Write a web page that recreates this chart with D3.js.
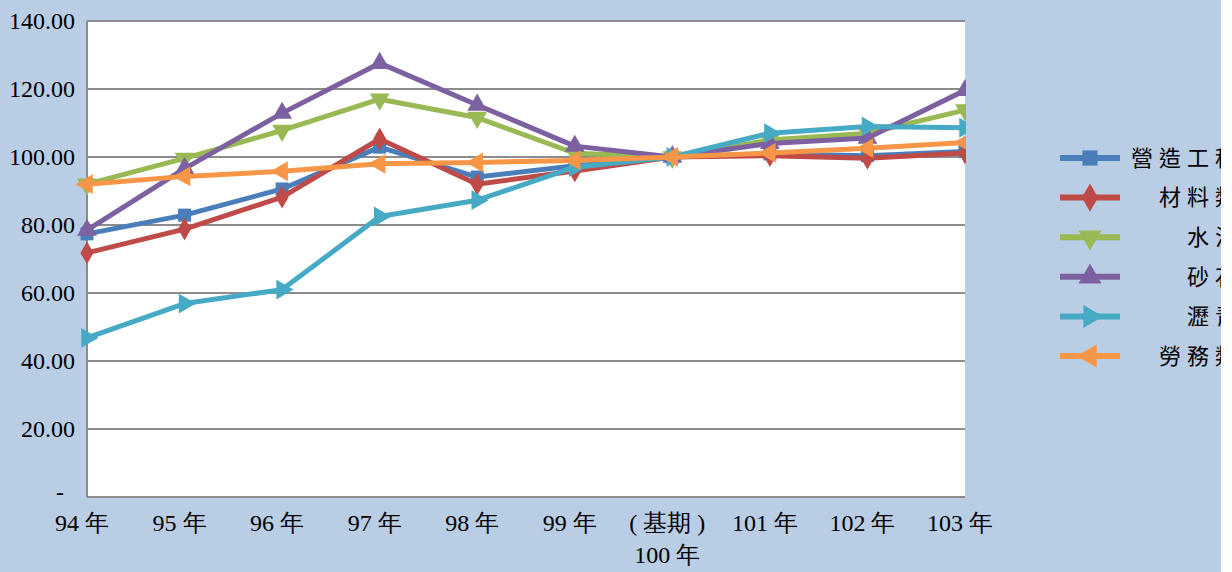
<!DOCTYPE html>
<html>
<head>
<meta charset="utf-8">
<script src="https://cdn.jsdelivr.net/npm/d3@7/dist/d3.min.js"></script>
<style>
  html, body { margin: 0; padding: 0; background: #fff; }
  svg text { fill: #000; }
</style>
</head>
<body>
<svg id="chart" width="1232" height="572"></svg>
<script>
// 年度 (類別軸)
const years = ['94 年', '95 年', '96 年', '97 年', '98 年', '99 年', '(基期)|100 年', '101 年', '102 年', '103 年'];
const yTicks = [0, 20, 40, 60, 80, 100, 120, 140];

// 各類指數
const seriesNames = ['營造工程物價總指數', '　材料類', '　　水泥及其製品', '　　砂石及級配', '　　瀝青及其製品', '　勞務類'];
const totalIdx    = [77.4, 82.9, 90.6, 102.9, 94.1, 97.4, 100, 100.9, 100.4, 101.6];
const materialIdx = [71.8, 78.8, 88.2, 105.3, 92.0, 95.9, 100, 100.4, 99.6, 101.2];
const cementIdx   = [92.0, 99.6, 107.8, 117.0, 111.6, 101.1, 100, 105.0, 107.0, 113.8];
const gravelIdx   = [78.5, 96.6, 112.9, 127.6, 115.3, 103.2, 100, 104.0, 105.6, 119.6];
const asphaltIdx  = [46.8, 56.9, 61.0, 82.5, 87.3, 97.0, 100, 107.0, 109.0, 108.6];
const laborIdx    = [92.0, 94.3, 95.8, 98.0, 98.4, 99.0, 100, 101.2, 102.6, 104.3];

const allSeries = [totalIdx, materialIdx, cementIdx, gravelIdx, asphaltIdx, laborIdx];
const colors = ['#4a7ebb', '#be4b48', '#98b954', '#7d60a0', '#46aac5', '#f79646'];
const markers = ['square', 'diamond', 'down', 'up', 'right', 'left'];

const serifFont = "'Liberation Serif', 'DejaVu Serif', serif";
const cjkFont = "'Noto Sans CJK TC', sans-serif";

const svg = d3.select('#chart');
const W = 1232, H = 572;
const margin = { left: 87, top: 21, right: 267, bottom: 75 };
const w = W - margin.left - margin.right;
const h = H - margin.top - margin.bottom;

svg.append('rect').attr('width', W).attr('height', H).attr('fill', '#b9cde5');

const g = svg.append('g').attr('transform', `translate(${margin.left},${margin.top})`);

const x = d3.scalePoint().domain(years).range([0, w]);
const y = d3.scaleLinear().domain([0, 140]).range([h, 0]);

g.append('rect').attr('width', w).attr('height', h).attr('fill', '#fff');

// 格線
g.selectAll('.grid').data(yTicks.filter(d => d > 0)).enter()
  .append('line')
  .attr('x1', 0).attr('x2', w)
  .attr('y1', d => y(d)).attr('y2', d => y(d))
  .attr('stroke', '#8c8c8c').attr('stroke-width', 2);

// y 軸
const yAxis = g.append('g').call(d3.axisLeft(y).tickValues(yTicks).tickSize(0).tickFormat(d => d === 0 ? '-' : d3.format('.2f')(d)));
yAxis.attr('font-family', null).attr('font-size', null);
yAxis.select('.domain').remove();
yAxis.selectAll('text')
  .style('font-family', serifFont)
  .style('font-size', '24px')
  .attr('x', d => d === 0 ? -31 : -12)
  .attr('dy', d => d === 0 ? '0.1em' : '0.32em')
  .attr('text-anchor', d => d === 0 ? 'start' : 'end');

// 軸線
g.append('line').attr('x1', 0).attr('x2', 0).attr('y1', 0).attr('y2', h)
  .attr('stroke', '#8c8c8c').attr('stroke-width', 2);
g.append('line').attr('x1', 0).attr('x2', w).attr('y1', h).attr('y2', h)
  .attr('stroke', '#8c8c8c').attr('stroke-width', 2);

// x 軸標籤
const xl = g.append('g').selectAll('text').data(years).enter()
  .append('text')
  .attr('x', d => x(d) - 5)
  .attr('y', h + 34)
  .attr('text-anchor', 'middle')
  .style('font-family', serifFont)
  .style('font-size', '24px');
xl.each(function (d) {
  const parts = d.split('|');
  d3.select(this).selectAll('tspan').data(parts).enter()
    .append('tspan')
    .attr('x', x(d) - 5)
    .attr('dy', (p, i) => i === 0 ? 0 : 32)
    .text(p => p.replace('(基期)', '( 基期 )'));
});

// 線與標記
svg.append('clipPath').attr('id', 'plotclip')
  .append('rect').attr('x', -40).attr('y', -40).attr('width', w + 41).attr('height', h + 80);

const sym = {
  square: d3.symbol().type(d3.symbolSquare).size(170),
  diamond: d3.symbol().type(d3.symbolDiamond).size(150),
  up: d3.symbol().type(d3.symbolTriangle).size(170),
  down: d3.symbol().type(d3.symbolTriangle).size(170),
  right: d3.symbol().type(d3.symbolTriangle).size(170),
  left: d3.symbol().type(d3.symbolTriangle).size(170)
};
const rot = { square: 0, diamond: 0, up: 0, down: 180, right: 90, left: -90 };

const plot = g.append('g').attr('clip-path', 'url(#plotclip)');
const line = d3.line().x((d, i) => x(years[i])).y(d => y(d));

allSeries.forEach((vals, si) => {
  const sg = plot.append('g');
  sg.append('path').datum(vals)
    .attr('d', line)
    .attr('fill', 'none')
    .attr('stroke', colors[si])
    .attr('stroke-width', 5)
    .attr('stroke-linejoin', 'round');
  sg.selectAll('path.m').data(vals).enter()
    .append('path').attr('class', 'm')
    .attr('d', sym[markers[si]])
    .attr('transform', (d, i) => `translate(${x(years[i])},${y(d)}) rotate(${rot[markers[si]]})`)
    .attr('fill', colors[si]);
});

// 圖例
const legend = svg.append('g').attr('transform', 'translate(1060,158)');
const legendSym = d3.symbol().size(230);
seriesNames.forEach((name, si) => {
  const lg = legend.append('g').attr('transform', `translate(0,${si * 39.6})`);
  lg.append('line').attr('x1', 0).attr('x2', 60).attr('y1', 0).attr('y2', 0)
    .attr('stroke', colors[si]).attr('stroke-width', 6);
  lg.append('path')
    .attr('d', legendSym.type(markers[si] === 'square' ? d3.symbolSquare : markers[si] === 'diamond' ? d3.symbolDiamond : d3.symbolTriangle)())
    .attr('transform', `translate(30,0) rotate(${rot[markers[si]]})`)
    .attr('fill', colors[si]);
  lg.append('text').attr('x', 71).attr('y', 0).attr('dy', '0.35em')
    .style('font-family', cjkFont)
    .style('font-size', '22px')
    .attr('letter-spacing', 6)
    .text(name);
});

// 右側裁切白邊
svg.append('rect').attr('x', 1221).attr('y', 0).attr('width', 11).attr('height', H).attr('fill', '#fff');
</script>
</body>
</html>
